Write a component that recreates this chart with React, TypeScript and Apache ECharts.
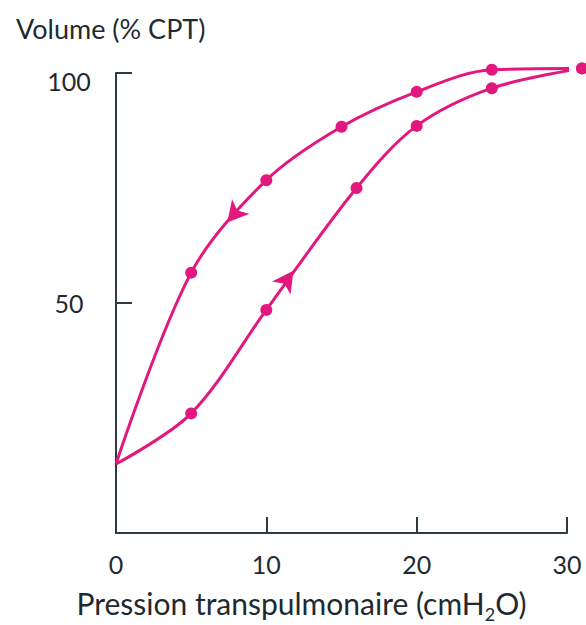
import React, { useEffect, useRef } from "react";
import * as echarts from "echarts";

// Inflation (lower branch) and deflation (upper branch) of the P-V loop
const inflationPressure = [0, 5, 10, 16, 20, 25, 31];
const inflationVolume = [15, 26, 48.5, 75, 88.5, 96.7, 101];
const deflationPressure = [0, 5, 10, 15, 20, 25, 31];
const deflationVolume = [15, 56.6, 76.7, 88.3, 95.9, 100.7, 101];
const xTickLabels = ["0", "10", "20", "30"];
const yTickLabels = ["50", "100"];
// direction arrows on each branch: [pressure, volume]
const deflationArrow = [7.4, 67.5];
const inflationArrow = [11.8, 57];

const PINK = "#e2187f";
const AXIS = "#2d3b43";
const TEXT = "#1f2a30";
const FONT = "Lato, 'Open Sans', sans-serif";

export default function App() {
  const ref = useRef<HTMLDivElement>(null);

  useEffect(() => {
    if (!ref.current) return;
    const chart = echarts.init(ref.current, null, { renderer: "svg" });

    const toData = (xs: number[], ys: number[]) =>
      xs.map((x, i) =>
        i === 0 ? { value: [x, ys[i]], symbol: "none" } : { value: [x, ys[i]] }
      );

    const baseSeries = {
      type: "line",
      smooth: 0.33,
      clip: false,
      symbol: "circle",
      symbolSize: 12,
      lineStyle: { color: PINK, width: 3 },
      itemStyle: { color: PINK },
      emphasis: { disabled: true },
      silent: true,
    };

    chart.setOption({
      animation: false,
      backgroundColor: "#ffffff",
      title: {
        text: "Volume (% CPT)",
        left: 11,
        top: 10,
        textStyle: { fontFamily: FONT, fontSize: 27, fontWeight: "normal", color: TEXT },
      },
      grid: { left: 116, top: 73, width: 451, height: 460, outerBoundsMode: "none" },
      xAxis: {
        type: "value",
        min: 0,
        max: 30,
        interval: 10,
        splitLine: { show: false },
        axisLine: { show: true, lineStyle: { color: AXIS, width: 2 } },
        axisTick: { show: true, inside: true, length: 16, lineStyle: { color: AXIS, width: 2 } },
        axisLabel: {
          margin: 18,
          fontFamily: FONT,
          fontSize: 25,
          color: TEXT,
          formatter: (v: number) => {
            const s = String(v);
            return xTickLabels.includes(s) ? s : "";
          },
        },
        name: "Pression transpulmonaire (cmH{sub|2}O)",
        nameLocation: "middle",
        nameGap: 50,
        nameTextStyle: {
          fontFamily: FONT,
          fontSize: 30,
          color: TEXT,
          padding: [0, 80, 0, 0],
          rich: {
            sub: { fontFamily: FONT, fontSize: 18, color: TEXT, padding: [22, 0, 0, 0] },
          },
        },
      },
      yAxis: {
        type: "value",
        min: 0,
        max: 100,
        interval: 50,
        splitLine: { show: false },
        axisLine: { show: true, lineStyle: { color: AXIS, width: 2 } },
        axisTick: { show: true, inside: true, length: 16, lineStyle: { color: AXIS, width: 2 } },
        axisLabel: {
          margin: 47,
          align: "center",
          fontFamily: FONT,
          fontSize: 25,
          color: TEXT,
          formatter: (v: number) => {
            const s = String(v);
            if (!yTickLabels.includes(s)) return "";
            return s === "100" ? "{top|" + s + "}" : s;
          },
          rich: {
            top: { fontFamily: FONT, fontSize: 25, color: TEXT, padding: [16, 0, 0, 0] },
          },
        },
      },
      series: [
        {
          ...baseSeries,
          name: "Inflation",
          data: toData(inflationPressure, inflationVolume),
          markPoint: {
            symbol: "arrow",
            symbolSize: [17, 21],
            itemStyle: { color: PINK },
            label: { show: false },
            silent: true,
            data: [{ coord: inflationArrow, symbolRotate: -35 }],
          },
        },
        {
          ...baseSeries,
          name: "Deflation",
          data: toData(deflationPressure, deflationVolume),
          markPoint: {
            symbol: "arrow",
            symbolSize: [17, 21],
            itemStyle: { color: PINK },
            label: { show: false },
            silent: true,
            data: [{ coord: deflationArrow, symbolRotate: 140 }],
          },
        },
      ],
    });

    return () => chart.dispose();
  }, []);

  return (
    <div
      ref={ref}
      style={{ position: "fixed", left: 0, top: 0, width: 586, height: 625 }}
    />
  );
}
